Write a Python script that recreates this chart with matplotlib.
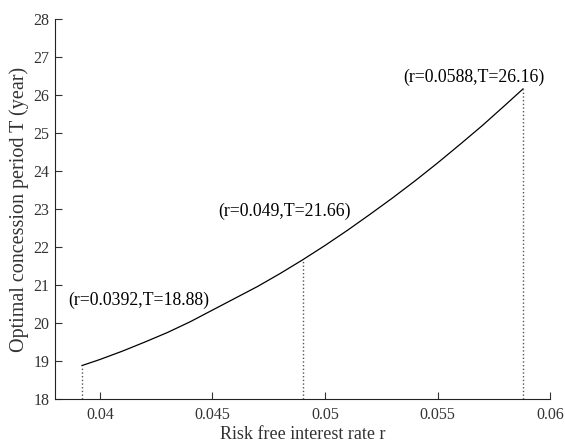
import matplotlib
matplotlib.use("Agg")
import matplotlib.pyplot as plt

plt.rcParams['font.family'] = ['Liberation Serif', 'DejaVu Serif']

r_vals = [0.0392, 0.040, 0.041, 0.042, 0.043, 0.044, 0.045, 0.046, 0.047, 0.048,
          0.049, 0.050, 0.051, 0.052, 0.053, 0.054, 0.055, 0.056, 0.057, 0.058, 0.0588]
T_vals = [18.88, 19.04, 19.26, 19.50, 19.75, 20.03, 20.34, 20.65, 20.96, 21.30,
          21.66, 22.04, 22.44, 22.86, 23.29, 23.74, 24.21, 24.70, 25.20, 25.73, 26.16]

mark_r = [0.0392, 0.049, 0.0588]
mark_T = [18.88, 21.66, 26.16]
mark_labels = ["(r=0.0392,T=18.88)", "(r=0.049,T=21.66)", "(r=0.0588,T=26.16)"]
label_pos = [(0.03858, 20.6), (0.04524, 22.95), (0.05347, 26.47)]

xticks = [0.04, 0.045, 0.05, 0.055, 0.06]
xtick_labels = ["0.04", "0.045", "0.05", "0.055", "0.06"]
yticks = list(range(18, 29))

fig = plt.figure(figsize=(5.65, 4.47), dpi=100)
ax = fig.add_axes([0.0973, 0.1074, 0.8762, 0.8501])

ax.plot(r_vals, T_vals, color='black', linewidth=0.9)
for rr, tt in zip(mark_r, mark_T):
    ax.plot([rr, rr], [18, tt], color='#555555', linestyle=':', linewidth=1.0)
for lab, (px, py) in zip(mark_labels, label_pos):
    ax.text(px, py, lab, fontsize=12.8, ha='left', va='center', clip_on=False)

ax.set_xlim(0.038, 0.06)
ax.set_ylim(18, 28)
ax.set_xticks(xticks)
ax.set_xticklabels(xtick_labels)
ax.set_yticks(yticks)
ax.tick_params(direction='in', length=5, width=0.8, labelsize=11.5, colors='#333333',
               labelcolor='#333333')
ax.tick_params(axis='x', pad=6)
ax.tick_params(axis='y', pad=4)
for s in ['top', 'right']:
    ax.spines[s].set_visible(False)
for s in ['left', 'bottom']:
    ax.spines[s].set_linewidth(0.8)
    ax.spines[s].set_color('#222222')

ax.set_xlabel("Risk free interest rate r", fontsize=13, color='#333333', labelpad=2)
ax.set_ylabel("Optimal concession period T (year)", fontsize=14.5, color='#333333', labelpad=3)

fig.savefig("out.png", dpi=100)
